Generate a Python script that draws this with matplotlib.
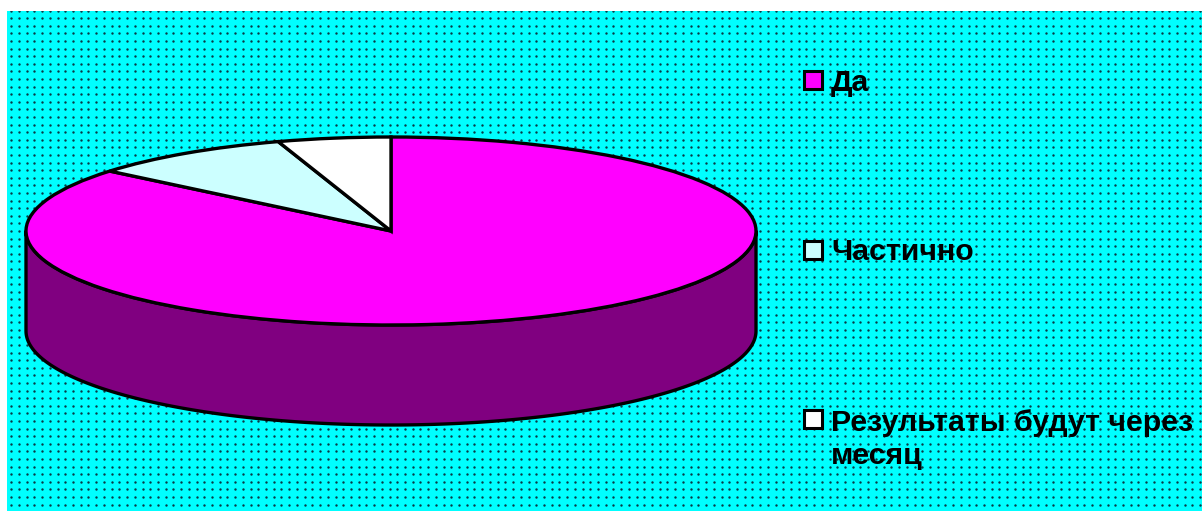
import numpy as np
import matplotlib
matplotlib.use("Agg")
import matplotlib.pyplot as plt
from matplotlib.patches import Rectangle

labels = ["Да", "Частично", "Результаты будут через\nмесяц"]
values = [86, 9, 5]
top_colors = ["#FF00FF", "#CCFFFF", "#FFFFFF"]
side_color = "#800080"
bg_color = "#00FFFF"

W, H = 1202, 511
cx, cy, rx, ry, depth = 391, 231, 365, 94, 100
fig = plt.figure(figsize=(W / 100, H / 100), dpi=100, facecolor="white")

# pixel-space layer: background, dots, legend
bg = fig.add_axes([0, 0, 1, 1])
bg.set_xlim(0, W)
bg.set_ylim(H, 0)
bg.axis("off")
panel = Rectangle((7, 11), W - 7, H - 11, fc=bg_color, ec="none")
bg.add_patch(panel)
xs = np.arange(11.3, W, 7.72)
ys = np.arange(10.7, H, 7.6)
gx, gy = np.meshgrid(xs, ys)
dots = bg.scatter(gx.ravel(), gy.ravel(), s=3.0, c="#0a3a46", linewidths=0, zorder=2)
dots.set_clip_path(panel)

# pie layer: unit circle maps on to the top ellipse
ax = fig.add_axes([0, 0, 1, 1])
ax.patch.set_alpha(0)
wedges, _ = ax.pie(values, colors=top_colors, startangle=90, counterclock=False,
                   radius=1, wedgeprops=dict(edgecolor="black", linewidth=2.4, zorder=5))
ax.set_aspect("auto")
ax.set_xlim((0 - cx) / rx, (W - cx) / rx)
ax.set_ylim((cy - H) / ry, cy / ry)
ax.axis("off")
d = depth / ry
t = np.linspace(np.pi, 2 * np.pi, 300)
sx = np.r_[np.cos(t), np.cos(t[::-1])]
sy = np.r_[np.sin(t) - d, np.sin(t[::-1])]
ax.fill(sx, sy, facecolor=side_color, edgecolor="black", linewidth=2.4, zorder=4, joinstyle="round")

# legend
legend_y = [80, 250, 419]
text_top = [69, 238, 409]
for lab, col, y, ty in zip(labels, top_colors, legend_y, text_top):
    bg.add_patch(Rectangle((804, y - 9), 18, 18, fc=col, ec="black", lw=2.2, zorder=3))
    bg.text(831, ty, lab, fontsize=21.8, fontweight="bold", family="Liberation Sans",
            color="black", va="top", ha="left", linespacing=1.22, zorder=3)

fig.savefig("out.png", dpi=100, facecolor="white")
